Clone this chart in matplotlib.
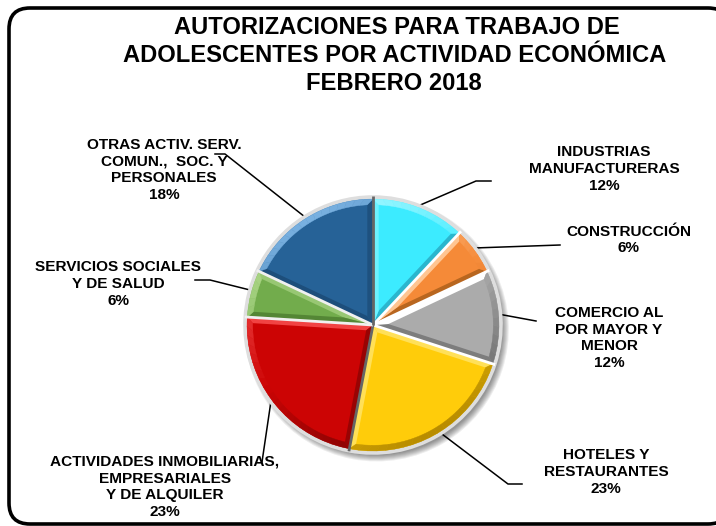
import math
import matplotlib
matplotlib.use("Agg")
import matplotlib.pyplot as plt
from matplotlib.patches import FancyBboxPatch, Polygon

plt.rcParams['font.family'] = ['Liberation Sans', 'DejaVu Sans']

W, H = 716, 526
title_lines = ["AUTORIZACIONES PARA TRABAJO DE", "ADOLESCENTES POR ACTIVIDAD ECONÓMICA", "FEBRERO 2018"]
title_pos = [(397, 27), (395, 55), (394, 84)]
categories = ["INDUSTRIAS\nMANUFACTURERAS", "CONSTRUCCIÓN", "COMERCIO AL\nPOR MAYOR Y\nMENOR",
              "HOTELES Y\nRESTAURANTES", "ACTIVIDADES INMOBILIARIAS,\nEMPRESARIALES\nY DE ALQUILER",
              "SERVICIOS SOCIALES\nY DE SALUD", "OTRAS ACTIV. SERV.\nCOMUN.,  SOC. Y\nPERSONALES"]
values = [12, 6, 12, 23, 23, 6, 18]
colors = ["#3CEBFF", "#F58A38", "#ABABAB", "#FFCC0A", "#CC0404", "#72AC4C", "#266297"]
darks = ["#2AB4CC", "#B8661F", "#666666", "#B88C00", "#7C0202", "#4E7E30", "#163F66"]
lights = ["#A0F7FF", "#FFC896", "#FFFFFF", "#FFEA80", "#F85050", "#B4DC90", "#78B0E0"]
sep_colors = ["#FFFFFF", "#FFFFFF", "#FFFFFF", "#666666", "#F0F0F0", "#F0F0F0", "#666666"]
label_xy = [(604, 169), (629, 240), (609, 338), (606, 472), (165, 487), (118, 284), (164, 170)]
leaders = [[(491, 181), (476, 181), (418, 206)], [(560, 245), (474, 248)], [(536, 321), (498, 314)],
           [(522, 484), (508, 484), (438, 431)], [(262, 462), (271, 401)], [(195, 280), (210, 280), (250, 290)],
           [(215, 154), (225, 154), (305, 217)]]


def mix(a, b, t):
    ca, cb = matplotlib.colors.to_rgb(a), matplotlib.colors.to_rgb(b)
    return tuple(x + (y - x) * t for x, y in zip(ca, cb))


def shade(base, dark, light, normal_deg):
    t = math.cos(math.radians(normal_deg - 120))
    return mix(base, light, t) if t >= 0 else mix(base, dark, -t)


def pt(r, deg, c=(0.0, 0.0)):
    return (c[0] + r * math.cos(math.radians(deg)), c[1] + r * math.sin(math.radians(deg)))


fig = plt.figure(figsize=(W / 100, H / 100), dpi=100)
bg = fig.add_axes([0, 0, 1, 1])
bg.set_xlim(0, W)
bg.set_ylim(H, 0)
bg.axis("off")
bg.add_patch(FancyBboxPatch((9, 8), 720, 516, boxstyle="round,pad=0,rounding_size=21",
                            fc="white", ec="black", lw=2.6, zorder=1, clip_on=True))
for line, (x, y) in zip(title_lines, title_pos):
    bg.text(x, y, line, ha="center", va="center", fontsize=17.1, fontweight="bold", zorder=5)

cx, cy, R = 373, 325, 126
pie_ax = fig.add_axes([(cx - R * 1.2) / W, 1 - (cy + R * 1.2) / H, R * 2.4 / W, R * 2.4 / H], zorder=2)
pie_ax.set_xlim(-1.2, 1.2)
pie_ax.set_ylim(-1.2, 1.2)
pie_ax.set_aspect("equal")
pie_ax.axis("off")

common = dict(startangle=90, counterclock=False, frame=False)
for k in range(7):
    pie_ax.pie(values, radius=1.0 + 0.008 * k, center=(0.03, -0.035),
               colors=[(0, 0, 0, 0.07)] * 7, wedgeprops=dict(lw=0), **common)
pie_ax.pie(values, radius=1.03, colors=["#DEDEDE"] * 7, wedgeprops=dict(lw=0), **common)
wedges, _ = pie_ax.pie(values, radius=1.0, colors=colors, wedgeprops=dict(lw=0), **common)

d = 0.045
for wd, base, dk, lt in zip(wedges, colors, darks, lights):
    a1, a2 = wd.theta1, wd.theta2
    half = (a2 - a1) / 2
    mid = (a1 + a2) / 2
    apex = pt(d / math.sin(math.radians(half)), mid)
    off = math.degrees(math.asin(d / (1 - d)))
    i1, i2 = a1 + off, a2 - off
    pie_ax.add_patch(Polygon([(0, 0), pt(1, a1), pt(1 - d, i1), apex], closed=True,
                             fc=shade(base, dk, lt, a1 - 90), ec="none", zorder=3))
    pie_ax.add_patch(Polygon([(0, 0), pt(1, a2), pt(1 - d, i2), apex], closed=True,
                             fc=shade(base, dk, lt, a2 + 90), ec="none", zorder=3))
    n = max(3, int((a2 - a1) / 4))
    for j in range(n):
        s, e = j / n, (j + 1) / n
        o1, o2 = a1 + (a2 - a1) * s, a1 + (a2 - a1) * e
        n1, n2 = i1 + (i2 - i1) * s, i1 + (i2 - i1) * e
        col = shade(base, dk, lt, (o1 + o2) / 2)
        pie_ax.add_patch(Polygon([pt(1, o1), pt(1, o2), pt(1 - d, n2), pt(1 - d, n1)], closed=True,
                                 fc=col, ec=col, lw=0.3, zorder=3))

ang = 90.0
for v, sc in zip(values, sep_colors):
    ang -= v / sum(values) * 360
    x, y = pt(1.02, ang)
    pie_ax.plot([0, x], [0, y], color=sc, lw=2.0, zorder=4, solid_capstyle="butt")
pie_ax.set_xlim(-1.2, 1.2)
pie_ax.set_ylim(-1.2, 1.2)

for pts in leaders:
    bg.plot([p[0] for p in pts], [p[1] for p in pts], color="black", lw=1.1, zorder=4)
ov = fig.add_axes([0, 0, 1, 1], zorder=6)
ov.set_xlim(0, W)
ov.set_ylim(H, 0)
ov.axis("off")
ov.patch.set_alpha(0)
for name, v, (x, y) in zip(categories, values, label_xy):
    ov.text(x, y, f"{name}\n{v}%", ha="center", va="center", fontsize=11.1, fontweight="bold",
            linespacing=1.27)

fig.savefig("out.png", dpi=100)
